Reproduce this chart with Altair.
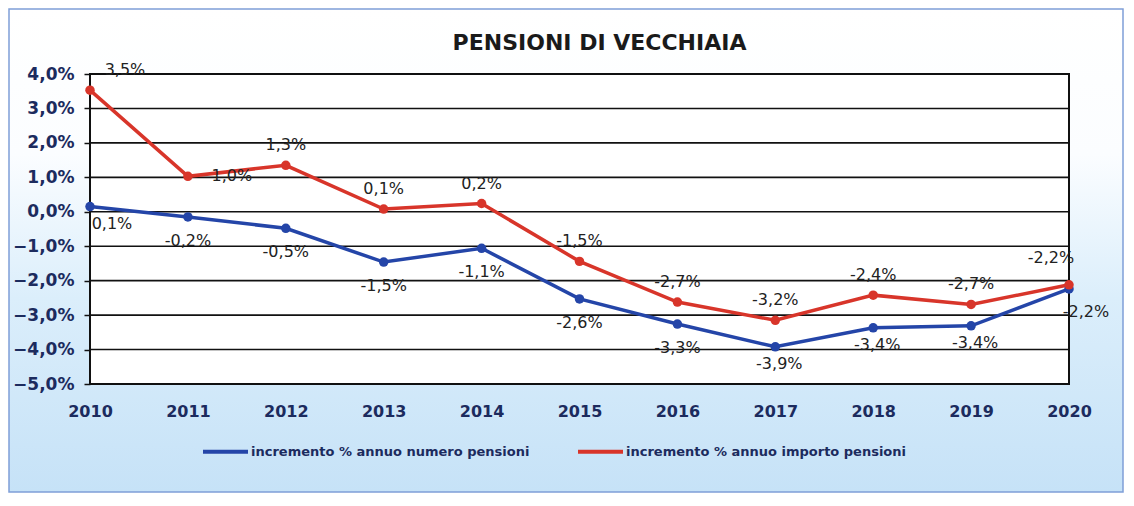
import altair as alt
import pandas as pd

years = ["2010", "2011", "2012", "2013", "2014", "2015", "2016", "2017", "2018", "2019", "2020"]
numero = [0.15, -0.15, -0.48, -1.46, -1.06, -2.53, -3.26, -3.92, -3.37, -3.31, -2.24]
importo = [3.53, 1.03, 1.35, 0.08, 0.24, -1.44, -2.62, -3.15, -2.42, -2.69, -2.12]
numero_labels = ["0,1%", "-0,2%", "-0,5%", "-1,5%", "-1,1%", "-2,6%", "-3,3%", "-3,9%", "-3,4%", "-3,4%", "-2,2%"]
importo_labels = ["3,5%", "1,0%", "1,3%", "0,1%", "0,2%", "-1,5%", "-2,7%", "-3,2%", "-2,4%", "-2,7%", "-2,2%"]
series_names = ["incremento % annuo numero pensioni", "incremento % annuo importo pensioni"]
y_ticks = [-5, -4, -3, -2, -1, 0, 1, 2, 3, 4]
title_text = ["PENSIONI  DI VECCHIAIA"]

W, H = 979, 310
FONT = "DejaVu Sans"
NAVY = "#1c2b5e"
BLUE = "#2445a8"
RED = "#d8352a"
LABEL = "#222222"

rows = []
for i, yr in enumerate(years):
    rows.append(dict(year=yr, serie=series_names[0], value=numero[i], label=numero_labels[i]))
for i, yr in enumerate(years):
    rows.append(dict(year=yr, serie=series_names[1], value=importo[i], label=importo_labels[i]))
df = pd.DataFrame(rows)
grid_df = pd.DataFrame({"v": y_ticks})
one = pd.DataFrame({"a": [0]})
title_df = pd.DataFrame({"t": title_text})

xscale = alt.Scale(type="point", padding=0, domain=years)
yscale = alt.Scale(domain=[-5, 4], nice=False, zero=False)

y_axis = alt.Axis(
    values=y_ticks,
    labelExpr="replace(format(datum.value, '.1f'), '.', ',') + '%'",
    grid=False,
    domain=False,
    ticks=True,
    tickSize=6,
    tickColor="#111111",
    tickWidth=1.5,
    labelFont=FONT,
    labelFontSize=17,
    labelFontWeight="bold",
    labelColor=NAVY,
    labelPadding=10,
    zindex=1,
)
x_axis = alt.Axis(
    labelAngle=0,
    ticks=False,
    domain=False,
    grid=False,
    labelFont=FONT,
    labelFontSize=16,
    labelFontWeight="bold",
    labelColor=NAVY,
    labelPadding=19,
    zindex=1,
)

bg = alt.Chart(one).mark_rect(
    fill=alt.Gradient(
        gradient="linear",
        stops=[
            alt.GradientStop(color="#ffffff", offset=0),
            alt.GradientStop(color="#fbfdff", offset=0.3),
            alt.GradientStop(color="#dbeefb", offset=0.6),
            alt.GradientStop(color="#c6e2f7", offset=1),
        ],
        x1=0, x2=0, y1=0, y2=1,
    ),
    stroke="#7f9fd8",
    strokeWidth=1.5,
).encode(x=alt.value(-81), x2=alt.value(W + 54), y=alt.value(-65), y2=alt.value(H + 108))

panel = alt.Chart(one).mark_rect(fill="white", stroke="#111111", strokeWidth=2).encode(
    x=alt.value(0), x2=alt.value(W), y=alt.value(0), y2=alt.value(H)
)

grid = alt.Chart(grid_df).mark_rule(color="#111111", strokeWidth=1.6).encode(
    y=alt.Y("v:Q", scale=yscale, title=None, axis=y_axis)
)

title = alt.Chart(title_df).mark_text(
    font=FONT, fontSize=22, fontWeight="bold", color="#1a1a1a", baseline="middle", align="center"
).encode(x=alt.value(W / 2 + 20), y=alt.value(-31), text="t:N")

lines = alt.Chart(df).mark_line(
    strokeWidth=3.5, point=alt.OverlayMarkDef(size=90, filled=True)
).encode(
    x=alt.X("year:O", scale=xscale, title=None, axis=x_axis),
    y=alt.Y("value:Q", scale=yscale, title=None, axis=y_axis),
    color=alt.Color(
        "serie:N",
        scale=alt.Scale(domain=series_names, range=[BLUE, RED]),
        legend=alt.Legend(
            orient="none",
            legendX=111,
            legendY=353,
            direction="horizontal",
            title=None,
            symbolType="stroke",
            symbolSize=2025,
            symbolStrokeWidth=4,
            labelFont=FONT,
            labelFontSize=13,
            labelFontWeight="bold",
            labelColor=NAVY,
            labelLimit=500,
            labelOffset=1,
            columnPadding=40,
            padding=0,
        ),
    ),
)


def labels(serie, sel, dx, dy):
    return (
        alt.Chart(df)
        .transform_filter(alt.FieldEqualPredicate(field="serie", equal=serie))
        .transform_filter(alt.FieldOneOfPredicate(field="year", oneOf=sel))
        .mark_text(dx=dx, dy=dy, font=FONT, fontSize=16, color=LABEL, baseline="middle", align="center")
        .encode(
            x=alt.X("year:O", scale=xscale, title=None, axis=x_axis),
            y=alt.Y("value:Q", scale=yscale, title=None, axis=y_axis),
            text="label:N",
        )
    )


red_s, blue_s = series_names[1], series_names[0]
text_layers = [
    labels(red_s, years[2:10], 0, -20),
    labels(red_s, ["2010"], 35, -20),
    labels(red_s, ["2011"], 44, 0),
    labels(red_s, ["2020"], -18, -27),
    labels(blue_s, years[1:7], 0, 24),
    labels(blue_s, ["2017", "2018", "2019"], 4, 17),
    labels(blue_s, ["2010"], 22, 17),
    labels(blue_s, ["2020"], 17, 23),
]

chart = alt.layer(bg, panel, grid, lines, *text_layers, title).properties(
    width=W, height=H, padding=0
).configure_view(stroke=None)

chart.save("out.html", embed_options={"renderer": "svg", "actions": False})
